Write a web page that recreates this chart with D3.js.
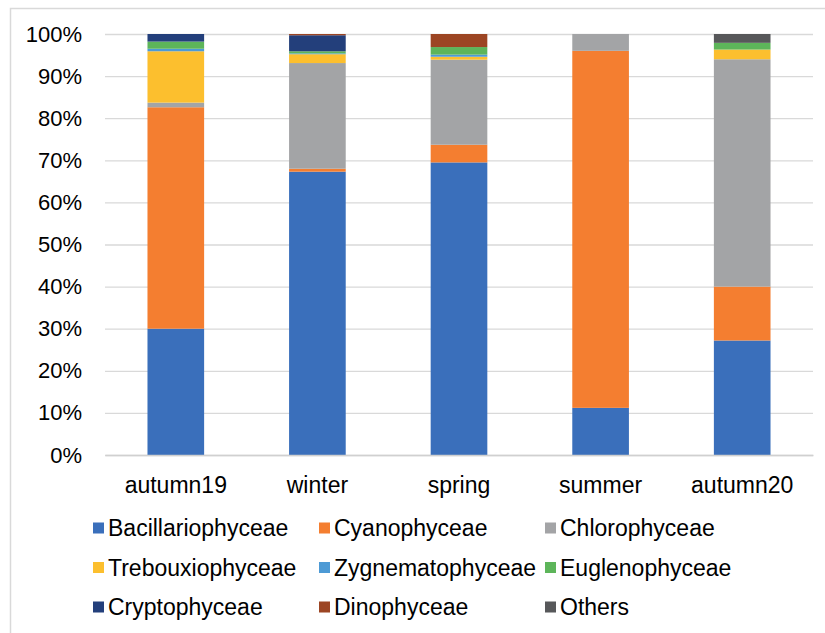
<!DOCTYPE html>
<html>
<head>
<meta charset="utf-8">
<script src="https://cdn.jsdelivr.net/npm/d3@7"></script>
<style>
  body { margin: 0; background: #fff; }
  text { font-family: "Liberation Sans", Arial, sans-serif; fill: #000; }
</style>
</head>
<body>
<div id="chart"></div>
<script>
// seasons on the x axis
const seasons = ['autumn19', 'winter', 'spring', 'summer', 'autumn20'];

// algal classes, bottom to top of each stack
const classes = ['Bacillariophyceae', 'Cyanophyceae', 'Chlorophyceae',
  'Trebouxiophyceae', 'Zygnematophyceae', 'Euglenophyceae',
  'Cryptophyceae', 'Dinophyceae', 'Others'];

// share (%) per class, one value per season
const bacillariophyceae = [30.0, 67.3, 69.5, 11.2, 27.2];
const cyanophyceae      = [52.6, 0.7, 4.2, 84.8, 12.8];
const chlorophyceae     = [1.1, 25.1, 20.2, 4.0, 54.0];
const trebouxiophyceae  = [12.2, 2.1, 0.7, 0, 2.3];
const zygnematophyceae  = [0.6, 0.2, 0.5, 0, 0];
const euglenophyceae    = [1.7, 0.5, 1.8, 0, 1.6];
const cryptophyceae     = [1.8, 3.8, 0, 0, 0];
const dinophyceae       = [0, 0.3, 3.1, 0, 0];
const others            = [0, 0, 0, 0, 2.1];

const yTicks = [0, 10, 20, 30, 40, 50, 60, 70, 80, 90, 100];

const colors = ['#3a6fbb', '#f47e30', '#a3a4a6', '#fcbf2e', '#4d9ad5',
  '#5db55a', '#233f7b', '#9c4523', '#57585a'];

(function() {
  const W = 825, H = 633;
  const plot = { left: 105, right: 813, top: 34, bottom: 455 };

  const svg = d3.select('#chart').append('svg')
    .attr('width', W)
    .attr('height', H);

  // outer frame (only top and left edge visible in the original)
  svg.append('path')
    .attr('d', `M10.5,${H} V8.5 H${W}`)
    .attr('fill', 'none')
    .attr('stroke', '#d9d9d9')
    .attr('stroke-width', 1.5);

  // build table rows for d3.stack
  const series = [bacillariophyceae, cyanophyceae, chlorophyceae, trebouxiophyceae,
    zygnematophyceae, euglenophyceae, cryptophyceae, dinophyceae, others];
  const table = seasons.map((s, i) => {
    const row = { season: s };
    classes.forEach((c, k) => { row[c] = series[k][i]; });
    return row;
  });
  const stacked = d3.stack().keys(classes)(table);

  const x = d3.scaleBand()
    .domain(seasons)
    .range([plot.left, plot.right])
    .paddingInner(0.6)
    .paddingOuter(0.3);

  const y = d3.scaleLinear()
    .domain([0, 100])
    .range([plot.bottom, plot.top]);

  const color = d3.scaleOrdinal().domain(classes).range(colors);

  // gridlines + y labels
  const yAxis = d3.axisLeft(y)
    .tickValues(yTicks)
    .tickFormat(d => d + '%')
    .tickSize(-(plot.right - plot.left))
    .tickPadding(23);

  const gy = svg.append('g')
    .attr('transform', `translate(${plot.left},0)`)
    .call(yAxis);
  gy.select('.domain').remove();
  gy.selectAll('line').attr('stroke', '#d9d9d9').attr('stroke-width', 1.3);
  gy.selectAll('text')
    .style('font-size', '22px')
    .style('font-family', '"Liberation Sans", Arial, sans-serif')
    .attr('fill', '#000');

  // stacked bars
  svg.append('g').selectAll('g')
    .data(stacked)
    .enter().append('g')
    .attr('fill', d => color(d.key))
    .selectAll('rect')
    .data(d => d)
    .enter().append('rect')
    .attr('x', d => x(d.data.season))
    .attr('width', x.bandwidth())
    .attr('y', d => y(d[1]))
    .attr('height', d => y(d[0]) - y(d[1]));

  // x axis
  const xAxis = d3.axisBottom(x).tickSize(0).tickPadding(22);
  const gx = svg.append('g')
    .attr('transform', `translate(0,${plot.bottom})`)
    .call(xAxis);
  gx.select('.domain').attr('stroke', '#d0d0d0').attr('stroke-width', 1.5);
  gx.selectAll('text')
    .style('font-size', '23px')
    .style('font-family', '"Liberation Sans", Arial, sans-serif')
    .attr('fill', '#000');

  // legend: 3 columns x 3 rows
  const legend = svg.append('g');
  const item = legend.selectAll('g')
    .data(classes)
    .enter().append('g')
    .attr('transform', (d, i) => `translate(${93 + (i % 3) * 226},${528 + Math.floor(i / 3) * 39.5})`);

  item.append('rect')
    .attr('x', 0)
    .attr('y', -5.5)
    .attr('width', 11)
    .attr('height', 11)
    .attr('fill', d => color(d));

  item.append('text')
    .attr('x', 15)
    .attr('dy', '0.36em')
    .style('font-size', '23px')
    .text(d => d);
})();
</script>
</body>
</html>
